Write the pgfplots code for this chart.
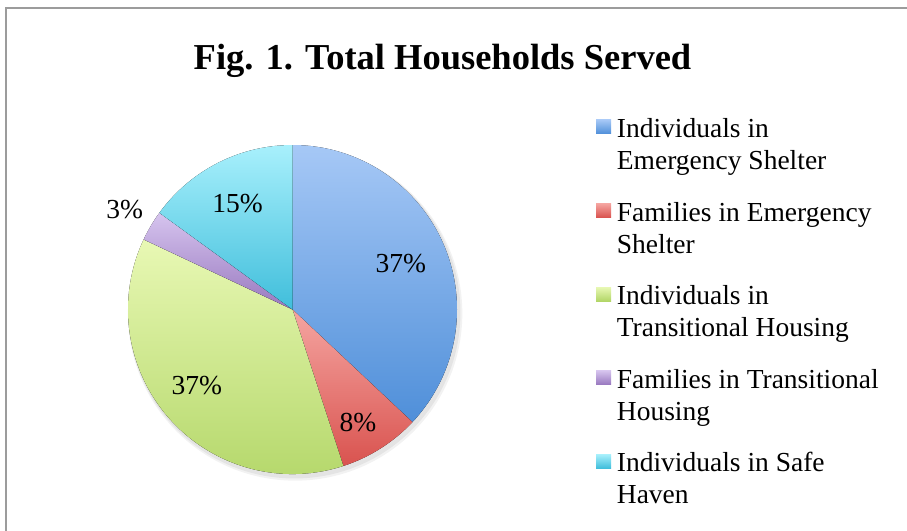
\documentclass[border=0pt]{standalone}
\usepackage{pgfplots}
\usepackage{pgfplotstable}
\pgfplotsset{compat=1.18}
\usepackage{fontspec}
\setmainfont{Liberation Serif}

% slice colours: top and bottom of the vertical gradient
\definecolor{top0}{HTML}{A6C8F6}\definecolor{bot0}{HTML}{4F8FD9}
\definecolor{top1}{HTML}{F5A5A1}\definecolor{bot1}{HTML}{D9534F}
\definecolor{top2}{HTML}{E8F8B4}\definecolor{bot2}{HTML}{B2D667}
\definecolor{top3}{HTML}{D6C4EE}\definecolor{bot3}{HTML}{9878BF}
\definecolor{top4}{HTML}{A8F0FC}\definecolor{bot4}{HTML}{40BEDB}
\definecolor{framegray}{HTML}{9C9C9C}

% share in percent, label position (axis units)
\pgfplotstableread{
value lx     ly
37    0.658  0.228
8     0.398  -0.743
37    -0.581 -0.514
3     -1.020 0.554
15    -0.334 0.591
}\piedata

\def\R{82.25pt}

\begin{document}
\begin{tikzpicture}
\path[use as bounding box] (0,0) rectangle (453.5pt,-265.5pt);

\begin{axis}[
  at={(146.25pt,-154.75pt)}, anchor=center,
  scale only axis, width=164.5pt, height=164.5pt,
  xmin=-1, xmax=1, ymin=-1, ymax=1,
  hide axis, clip=false]
\pgfplotsextra{
  % soft shadow, bottom right
  \fill[black, opacity=0.06] (axis cs:0.012,-0.018) circle[radius=83pt];
  \fill[black, opacity=0.05] (axis cs:0.016,-0.024) circle[radius=83.6pt];
  \def\cum{0}
  \pgfplotsforeachungrouped \i in {0,...,4}{
    \pgfplotstablegetelem{\i}{value}\of\piedata
    \let\v\pgfplotsretval
    \pgfmathsetmacro\a{90-3.6*\cum}
    \pgfmathsetmacro\b{90-3.6*(\cum+\v)}
    \pgfmathsetmacro\cum{\cum+\v}
    \edef\temp{\noexpand\fill[top color=top\i, bottom color=bot\i]
      (axis cs:0,0) -- (axis cs:{cos(\a)},{sin(\a)})
      arc[start angle=\a, end angle=\b, radius=\R] -- cycle;}
    \temp
  }
  \pgfplotsforeachungrouped \i in {0,...,4}{
    \pgfplotstablegetelem{\i}{value}\of\piedata \let\v\pgfplotsretval
    \pgfplotstablegetelem{\i}{lx}\of\piedata \let\lx\pgfplotsretval
    \pgfplotstablegetelem{\i}{ly}\of\piedata \let\ly\pgfplotsretval
    \edef\temp{\noexpand\node[anchor=base, inner sep=0pt,
      font=\noexpand\fontsize{13.75}{16}\noexpand\selectfont]
      at (axis cs:\lx,\ly) {\v\noexpand\%};}
    \temp
  }
}
\end{axis}

\begin{scope}[x=0.5pt, y=-0.5pt]
  % chart frame (open to the right and bottom)
  \draw[framegray, line width=1pt] (5.7,531) -- (5.7,7.7) -- (907,7.7);
  % title
  \node[anchor=base, inner sep=0pt, font=\fontsize{18.25}{22}\selectfont\bfseries]
    at (442.5,69) {Fig. 1. Total Households Served};
  % legend
  \foreach \i/\la/\lb in {0/Individuals in/Emergency Shelter,
      1/Families in Emergency/Shelter,
      2/Individuals in/Transitional Housing,
      3/Families in Transitional/Housing,
      4/Individuals in Safe/Haven}{
    \pgfmathsetmacro\yb{137.5+83.6*\i}
    \fill[top color=top\i, bottom color=bot\i] (596,\yb-17.7) rectangle (611,\yb-3.7);
    \node[anchor=base west, inner sep=0pt, font=\fontsize{13.75}{16}\selectfont]
      at (616.5,\yb) {\la};
    \node[anchor=base west, inner sep=0pt, font=\fontsize{13.75}{16}\selectfont]
      at (616.5,\yb+32) {\lb};
  }
\end{scope}
\end{tikzpicture}
\end{document}
